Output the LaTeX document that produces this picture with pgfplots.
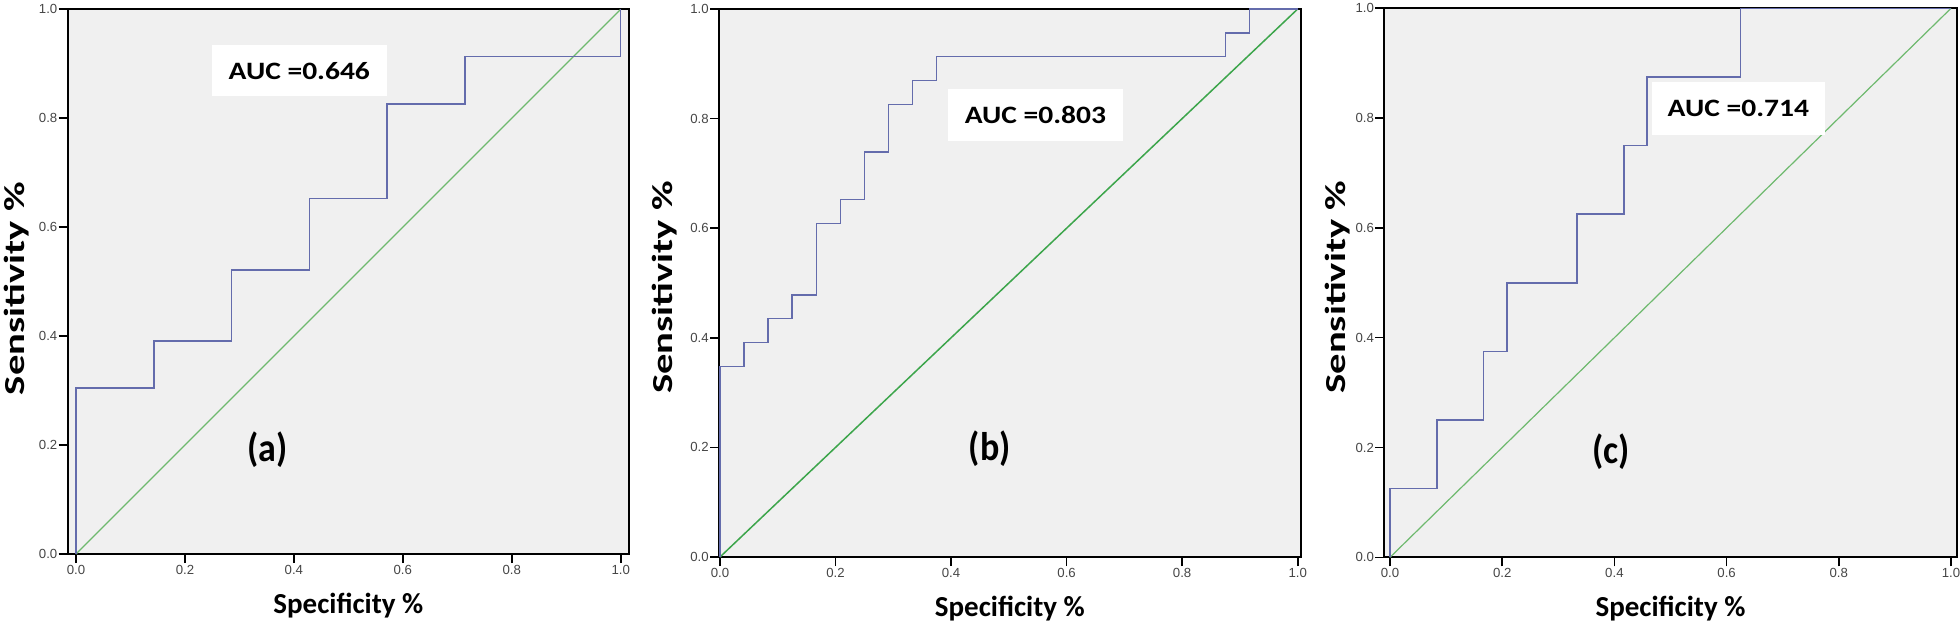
\documentclass[border=0pt]{standalone}
\usepackage{fontspec}
\setmainfont{Carlito}
\newfontfamily\tickfont{Liberation Sans}
\usepackage{graphicx}
\usepackage{pgfplots}
\pgfplotsset{compat=1.18}

\definecolor{bgc}{RGB}{240,240,240}
\definecolor{roc}{RGB}{100,108,172}
\definecolor{diagl}{RGB}{110,185,110}
\definecolor{diagd}{RGB}{60,165,75}
\definecolor{tickc}{RGB}{70,70,70}

\pgfplotstableread{
x y
0 0
0 0.3043
0.1429 0.3913
0.2857 0.5217
0.4286 0.6522
0.5714 0.8261
0.7143 0.9130
1 1
}\rocA

\pgfplotstableread{
x y
0 0
0 0.3478
0.0417 0.3913
0.0833 0.4348
0.125 0.4783
0.1667 0.6087
0.2083 0.6522
0.25 0.7391
0.2917 0.8261
0.3333 0.8696
0.375 0.9130
0.875 0.9565
0.9167 1
1 1
}\rocB

\pgfplotstableread{
x y
0 0
0 0.125
0.0833 0.25
0.1667 0.375
0.2083 0.5
0.3333 0.625
0.4167 0.75
0.4583 0.875
0.625 1
1 1
}\rocC

\pgfplotsset{
  rocax/.style={
    scale only axis,
    anchor=south west,
    ymin=0, ymax=1,
    axis background/.style={fill=bgc},
    axis line style={line width=1pt, black},
    tick align=outside,
    xtick={0,0.2,0.4,0.6,0.8,1},
    ytick={0,0.2,0.4,0.6,0.8,1},
    xtick pos=lower, ytick pos=left,
    major tick length=4.5pt,
    tick style={line width=0.8pt, black},
    ticklabel style={font=\tickfont\fontsize{6.6}{7}\selectfont, text=tickc},
    xticklabel style={inner sep=1pt},
    yticklabel style={inner sep=0.5pt},
    /pgf/number format/.cd, fixed, fixed zerofill, precision=1, assume math mode=true,
    /pgfplots/.cd,
    xlabel={\fontsize{14.5}{16}\selectfont\bfseries Specificity \%},
    xlabel style={at={(axis description cs:0.5,0)}, anchor=base, yshift=-29.5pt},
    ylabel={\scalebox{1.4}[1]{\fontsize{14.5}{16}\selectfont\bfseries Sensitivity \%}},
  },
  rocline/.style={color=roc, line width=0.75pt, const plot, mark=none},
}

\newcommand{\auc}[1]{\scalebox{1.18}[1]{\fontsize{12.5}{14}\selectfont\bfseries AUC =#1}}
\newcommand{\plab}[1]{\scalebox{0.9}[1]{\fontsize{20}{22}\selectfont\bfseries (#1)}}

\begin{document}
\begin{tikzpicture}
\useasboundingbox (0,0) rectangle (980pt,313.5pt);

% (a)
\begin{axis}[rocax,
  at={(33.85pt,36.5pt)}, width=280.65pt, height=272.35pt,
  xmin=-0.0152, xmax=1.0152,
  ylabel style={at={(axis description cs:-0.0903,0.487)}, anchor=center}]
\addplot[color=diagl, line width=0.6pt] coordinates {(0,0) (1,1)};
\addplot[rocline] table[x=x,y=y] {\rocA};
\node[fill=white, inner sep=0pt, minimum width=87.5pt, minimum height=25.5pt] at (axis cs:0.41,0.8875) {\auc{0.646}};
\node at (axis cs:0.352,0.191) {\plab{a}};
\end{axis}

% (b)
\begin{axis}[rocax,
  at={(359.5pt,35pt)}, width=290.85pt, height=274pt,
  xmin=-0.0017, xmax=1.0052,
  ylabel style={at={(axis description cs:-0.0928,0.492)}, anchor=center}]
\addplot[color=diagd, line width=0.75pt] coordinates {(0,0) (1,1)};
\addplot[rocline] table[x=x,y=y] {\rocB};
\node[fill=white, inner sep=0pt, minimum width=87.5pt, minimum height=26pt] at (axis cs:0.546,0.807) {\auc{0.803}};
\node at (axis cs:0.467,0.197) {\plab{b}};
\end{axis}

% (c)
\begin{axis}[rocax,
  at={(692.15pt,34.85pt)}, width=286.2pt, height=274.5pt,
  xmin=-0.0102, xmax=1.0102,
  ylabel style={at={(axis description cs:-0.081,0.492)}, anchor=center}]
\addplot[color=diagl, line width=0.6pt] coordinates {(0,0) (1,1)};
\addplot[rocline] table[x=x,y=y] {\rocC};
\node[fill=white, inner sep=0pt, minimum width=86.5pt, minimum height=26.5pt] at (axis cs:0.621,0.8175) {\auc{0.714}};
\node at (axis cs:0.394,0.192) {\plab{c}};
\end{axis}
\end{tikzpicture}
\end{document}
